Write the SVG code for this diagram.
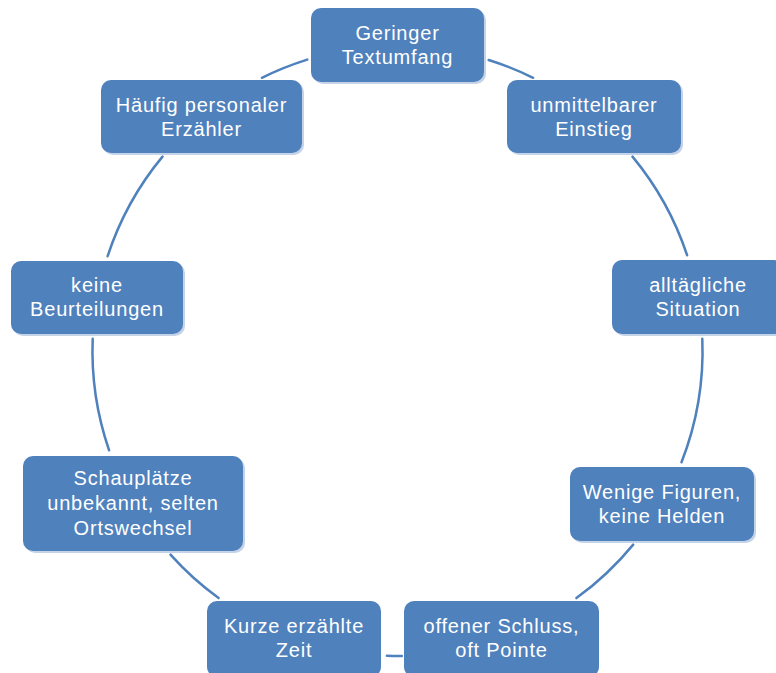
<svg xmlns="http://www.w3.org/2000/svg" width="776" height="673" viewBox="0 0 776 673">
<style>
.box{fill:#4F81BD;}
.sh{fill:#C5D3E8;}
.lbl{font-family:"Liberation Sans",Arial,sans-serif;font-size:20px;fill:#FFFFFF;text-anchor:middle;letter-spacing:0.8px;}
.con{fill:none;stroke:#4F81BD;stroke-width:2.5;stroke-linecap:round;}
</style>
<rect width="776" height="673" fill="#FFFFFF"/>
<g id="connectors">
<path class="con" d="M488.7 60.0 A305 305 0 0 1 533.1 77.8"/>
<path class="con" d="M632.5 156.6 A305 305 0 0 1 687.1 255.2"/>
<path class="con" d="M702.3 338.8 A305 305 0 0 1 681.5 462.3"/>
<path class="con" d="M633.2 544.6 A305 305 0 0 1 576.4 598.1"/>
<path class="con" d="M401.8 656.0 A305 305 0 0 1 386.9 655.8"/>
<path class="con" d="M218.6 598.1 A305 305 0 0 1 170.5 554.7"/>
<path class="con" d="M109.1 450.3 A305 305 0 0 1 92.7 338.8"/>
<path class="con" d="M107.6 256.2 A305 305 0 0 1 162.5 156.6"/>
<path class="con" d="M261.9 77.8 A305 305 0 0 1 307.3 59.6"/>
</g>
<g id="n1">
<rect class="sh" x="313" y="10" width="173" height="74" rx="10"/>
<rect class="box" x="311" y="8" width="173" height="74" rx="10"/>
<text class="lbl" x="397.5" y="40">Geringer</text>
<text class="lbl" x="397.5" y="64">Textumfang</text>
</g>
<g id="n2">
<rect class="sh" x="509" y="82" width="174" height="73" rx="10"/>
<rect class="box" x="507" y="80" width="174" height="73" rx="10"/>
<text class="lbl" x="594" y="112">unmittelbarer</text>
<text class="lbl" x="594" y="136">Einstieg</text>
</g>
<g id="n3">
<rect class="sh" x="614" y="262" width="172" height="74" rx="10"/>
<rect class="box" x="612" y="260" width="172" height="74" rx="10"/>
<text class="lbl" x="698" y="292">alltägliche</text>
<text class="lbl" x="698" y="316">Situation</text>
</g>
<g id="n4">
<rect class="sh" x="572" y="469" width="184" height="74" rx="10"/>
<rect class="box" x="570" y="467" width="184" height="74" rx="10"/>
<text class="lbl" x="662" y="499">Wenige Figuren,</text>
<text class="lbl" x="662" y="523">keine Helden</text>
</g>
<g id="n5">
<rect class="box" x="404" y="601" width="195" height="76" rx="10"/>
<text class="lbl" x="501.5" y="633">offener Schluss,</text>
<text class="lbl" x="501.5" y="657">oft Pointe</text>
</g>
<g id="n6">
<rect class="box" x="207" y="601" width="174" height="76" rx="10"/>
<text class="lbl" x="294" y="633">Kurze erzählte</text>
<text class="lbl" x="294" y="657">Zeit</text>
</g>
<g id="n7">
<rect class="sh" x="25" y="458" width="220" height="95" rx="10"/>
<rect class="box" x="23" y="456" width="220" height="95" rx="10"/>
<text class="lbl" x="133" y="485">Schauplätze</text>
<text class="lbl" x="133" y="510">unbekannt, selten</text>
<text class="lbl" x="133" y="535">Ortswechsel</text>
</g>
<g id="n8">
<rect class="sh" x="13" y="263" width="172" height="73" rx="10"/>
<rect class="box" x="11" y="261" width="172" height="73" rx="10"/>
<text class="lbl" x="97" y="292">keine</text>
<text class="lbl" x="97" y="316">Beurteilungen</text>
</g>
<g id="n9">
<rect class="sh" x="103" y="82" width="201" height="73" rx="10"/>
<rect class="box" x="101" y="80" width="201" height="73" rx="10"/>
<text class="lbl" x="201.5" y="112">Häufig personaler</text>
<text class="lbl" x="201.5" y="136">Erzähler</text>
</g>
</svg>
